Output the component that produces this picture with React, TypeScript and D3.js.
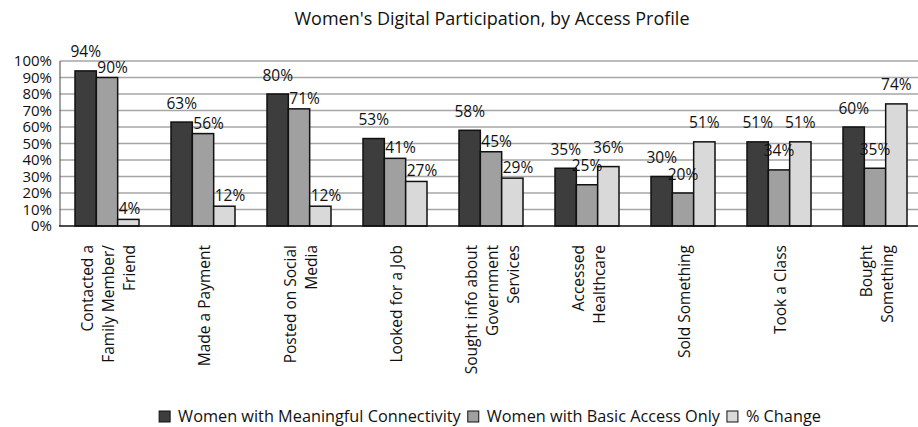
import React, { useEffect, useRef } from "react";
import * as d3 from "d3";

/* DATA */
const categories = [
  "Contacted a\nFamily Member/\nFriend",
  "Made a Payment",
  "Posted on Social\nMedia",
  "Looked for a Job",
  "Sought info about\nGovernment\nServices",
  "Accessed\nHealthcare",
  "Sold Something",
  "Took a Class",
  "Bought\nSomething",
];
const seriesNames = [
  "Women with Meaningful Connectivity",
  "Women with Basic Access Only",
  "% Change",
];
const meaningful = [94, 63, 80, 53, 58, 35, 30, 51, 60];
const basicOnly = [90, 56, 71, 41, 45, 25, 20, 34, 35];
const pctChange = [4, 12, 12, 27, 29, 36, 51, 51, 74];
const yTicks = [0, 10, 20, 30, 40, 50, 60, 70, 80, 90, 100];

const App = () => {
  const ref = useRef<SVGSVGElement>(null);

  useEffect(() => {
    /* Font Style */
    const fontFamily = "'Open Sans', sans-serif";
    const fontSize = 15.5;

    /* SVG Size */
    const width = 918;
    const left = 59;
    const right = 923; // plot runs a little past the window edge
    const top = 61;
    const bottom = 226;

    const colors = ["#3d3d3d", "#a0a0a0", "#d9d9d9"];
    const series = [meaningful, basicOnly, pctChange];

    const svg = d3.select(ref.current);
    svg.selectAll("*").remove();

    /* Scales */
    const x = d3
      .scaleBand<number>()
      .domain(d3.range(categories.length))
      .range([left, right])
      .paddingInner(1 / 3)
      .paddingOuter(1 / 6);
    const xs = d3
      .scaleBand<number>()
      .domain(d3.range(series.length))
      .range([0, x.bandwidth()]);
    const y = d3.scaleLinear().domain([0, 100]).range([bottom, top]);

    /* Title */
    svg
      .append("text")
      .attr("x", 492)
      .attr("y", 25)
      .attr("text-anchor", "middle")
      .attr("font-family", fontFamily)
      .attr("font-size", 18)
      .attr("fill", "#111")
      .text("Women's Digital Participation, by Access Profile");

    /* Gridlines */
    svg
      .append("g")
      .selectAll("line")
      .data(yTicks.filter((t) => t > 0))
      .join("line")
      .attr("x1", left + 1)
      .attr("x2", width)
      .attr("y1", (d) => y(d))
      .attr("y2", (d) => y(d))
      .attr("stroke", "#a6a6a6")
      .attr("stroke-width", 1.5);

    /* Y axis */
    svg
      .append("line")
      .attr("x1", left + 1)
      .attr("x2", left + 1)
      .attr("y1", y(100))
      .attr("y2", y(0))
      .attr("stroke", "#444")
      .attr("stroke-width", 1);

    svg
      .append("g")
      .selectAll("text")
      .data(yTicks)
      .join("text")
      .attr("x", 52)
      .attr("y", (d) => y(d))
      .attr("dy", "0.35em")
      .attr("text-anchor", "end")
      .attr("font-family", fontFamily)
      .attr("font-size", 15)
      .attr("fill", "#111")
      .text((d) => `${d}%`);

    /* Bars */
    const groups = svg
      .append("g")
      .selectAll("g")
      .data(categories.map((c, i) => i))
      .join("g")
      .attr("transform", (i) => `translate(${x(i)},0)`);

    groups
      .selectAll("rect")
      .data((i) => series.map((s, k) => ({ k, v: s[i] })))
      .join("rect")
      .attr("x", (d) => xs(d.k)!)
      .attr("y", (d) => y(d.v))
      .attr("width", xs.bandwidth())
      .attr("height", (d) => y(0) - y(d.v))
      .attr("fill", (d) => colors[d.k])
      .attr("stroke", "#111")
      .attr("stroke-width", 1.5);

    /* Value labels: the first five groups have the 2nd/3rd labels nudged right */
    groups
      .selectAll("text")
      .data((i) => series.map((s, k) => ({ i, k, v: s[i] })))
      .join("text")
      .attr("x", (d) =>
        d.k > 0 && d.i < 5 ? xs(d.k)! + 1 : xs(d.k)! + xs.bandwidth() / 2
      )
      .attr("y", (d) => y(d.v) - (d.k > 0 && d.i < 5 ? 5 : 13.5))
      .attr("text-anchor", (d) => (d.k > 0 && d.i < 5 ? "start" : "middle"))
      .attr("font-family", fontFamily)
      .attr("font-size", fontSize)
      .attr("fill", "#111")
      .text((d) => `${d.v}%`);

    /* X axis baseline */
    svg
      .append("line")
      .attr("x1", left)
      .attr("x2", width)
      .attr("y1", y(0))
      .attr("y2", y(0))
      .attr("stroke", "#111")
      .attr("stroke-width", 1.5);

    /* Category labels, rotated */
    const lineHeight = 21;
    const cat = svg
      .append("g")
      .selectAll("text")
      .data(categories)
      .join("text")
      .attr(
        "transform",
        (d, i) => `translate(${x(i)! + x.bandwidth() / 2 + 2},245) rotate(-90)`
      )
      .attr("text-anchor", "end")
      .attr("font-family", fontFamily)
      .attr("font-size", fontSize)
      .attr("fill", "#111");
    cat.each(function (d) {
      const lines = d.split("\n");
      d3.select(this)
        .selectAll("tspan")
        .data(lines)
        .join("tspan")
        .attr("x", 0)
        .attr(
          "y",
          (l, j) => (j - (lines.length - 1) / 2) * lineHeight + fontSize * 0.35
        )
        .text((l) => l);
    });

    /* Legend */
    const legend = svg.append("g");
    const box = 11;
    const legendFont = 16.3;
    let cursor = 0;
    seriesNames.forEach((name, k) => {
      const item = legend.append("g").attr("transform", `translate(${cursor},0)`);
      item
        .append("rect")
        .attr("x", 0)
        .attr("y", -box)
        .attr("width", box)
        .attr("height", box)
        .attr("fill", colors[k])
        .attr("stroke", "#111")
        .attr("stroke-width", 1);
      const t = item
        .append("text")
        .attr("x", box + 8)
        .attr("y", 0)
        .attr("font-family", fontFamily)
        .attr("font-size", legendFont)
        .attr("fill", "#111")
        .text(name);
      const w = (t.node() as SVGTextElement).getComputedTextLength();
      cursor += box + 8 + w + 7;
    });
    const legendWidth = cursor - 7;
    legend.attr("transform", `translate(${490 - legendWidth / 2},422)`);
  }, []);

  return (
    <svg
      ref={ref}
      width={918}
      height={427}
      style={{ position: "absolute", left: 0, top: 0, background: "#fff" }}
    />
  );
};

export default App;
